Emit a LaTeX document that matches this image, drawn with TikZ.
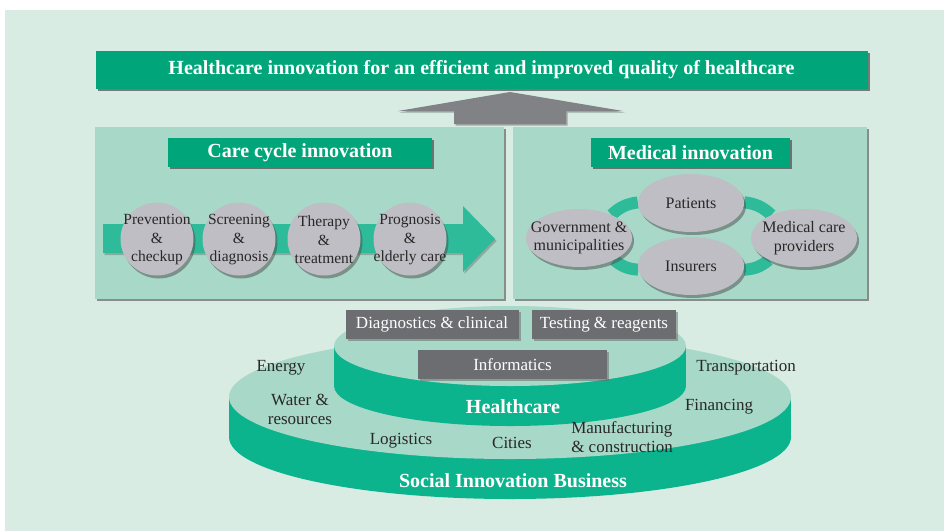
\documentclass[tikz,border=0pt]{standalone}
\usepackage{fontspec}
\setmainfont{Liberation Serif}
\usepackage{tikz}
\usetikzlibrary{shapes,shadows}
\definecolor{bgmint}{RGB}{216,236,228}
\definecolor{panelgreen}{RGB}{168,216,200}
\definecolor{titlegreen}{RGB}{0,166,122}
\definecolor{bandteal}{RGB}{45,187,154}
\definecolor{discteal}{RGB}{12,180,142}
\definecolor{circlegray}{RGB}{190,190,196}
\definecolor{boxgray}{RGB}{108,109,113}
\definecolor{arrowgray}{RGB}{128,130,134}
\definecolor{textgray}{RGB}{40,40,40}
\pgfdeclarelayer{bg}
\pgfdeclarelayer{mid}
\pgfsetlayers{bg,mid,main}
\tikzstyle{banner}=[fill=titlegreen,text=white,inner sep=0pt,font=\fontsize{20}{22}\bfseries\selectfont,drop shadow={shadow xshift=2pt,shadow yshift=-2pt,fill=black!70,opacity=.7}]
\tikzstyle{panel}=[fill=panelgreen,drop shadow={shadow xshift=2pt,shadow yshift=-2pt,fill=black!60,opacity=.7}]
\tikzstyle{stage}=[circle,fill=circlegray,minimum size=73pt,inner sep=0pt,drop shadow={shadow xshift=2pt,shadow yshift=-3pt,fill=black!70,opacity=.5}]
\tikzstyle{stage text}=[inner sep=0pt,text=textgray,font=\fontsize{15.5}{18.5}\selectfont]
\tikzstyle{actor}=[ellipse,fill=circlegray,minimum width=106pt,minimum height=58pt,inner sep=0pt,drop shadow={shadow xshift=2pt,shadow yshift=-3pt,fill=black!70,opacity=.5}]
\tikzstyle{actor text}=[inner sep=0pt,text=textgray,font=\fontsize{16}{18.5}\selectfont]
\tikzstyle{band}=[draw=bandteal,line width=12pt]
\tikzstyle{field}=[fill=boxgray,text=white,inner sep=0pt,minimum height=29pt,font=\fontsize{17}{20}\selectfont,drop shadow={shadow xshift=2pt,shadow yshift=-2pt,fill=black!60,opacity=.5}]
\tikzstyle{sector}=[text=textgray,font=\fontsize{17}{19}\selectfont]
\tikzstyle{tier}=[text=white,font=\fontsize{20}{22}\bfseries\selectfont]

\begin{document}
\begin{tikzpicture}[x=1pt,y=-1pt,align=center]
    \useasboundingbox (0,0) rectangle (944,531);
    \begin{pgfonlayer}{bg}
    \fill[bgmint] (5,10) rectangle (944,531);
    % social innovation disc
    \fill[discteal] (510,437) ellipse (281 and 62);
    \fill[discteal] (229,397) rectangle (791,437);
    \fill[panelgreen] (510,397) ellipse (281 and 62);
    % healthcare disc
    \fill[discteal] (510,386) ellipse (176 and 40);
    \fill[discteal] (334,346) rectangle (686,386);
    \fill[panelgreen] (510,346) ellipse (176 and 40);
    % upward arrow
    \fill[arrowgray,drop shadow={shadow xshift=1.5pt,shadow yshift=-1.5pt,fill=black!60,opacity=.5}] (454,124) -- (454,111) -- (398,111) -- (510,92) -- (623,111) -- (566,111) -- (566,124) -- cycle;
    \path[panel] (95,127) rectangle (504,299);
    \path[panel] (513,127) rectangle (867,299);
    \end{pgfonlayer}

    \node[banner,minimum width=772pt,minimum height=38pt] (goal) at (481.5,69.5) {Healthcare innovation for an efficient and improved quality of healthcare};
    \node[banner,minimum width=264pt,minimum height=29pt] (care) at (300,152.5) {Care cycle innovation};
    \node[banner,minimum width=199pt,minimum height=29pt] (medical) at (690.5,152.5) {Medical innovation};

    % care cycle
    \fill[bandteal,drop shadow={shadow xshift=1.5pt,shadow yshift=-2pt,fill=black!60,opacity=.4}] (103,224) -- (463,224) -- (463,206) -- (495,239) -- (463,272) -- (463,253) -- (103,253) -- cycle;
    \foreach \pos/\name/\txt in {(157,239)/prev/Prevention\\\&\\checkup, (239,239)/screen/Screening\\\&\\diagnosis,
        (324,239)/therapy/Therapy\\\&\\treatment, (410,239)/prog/Prognosis\\\&\\elderly care}
    {
        \node[stage] (\name) at \pos {};
        \node[stage text] (\name-t) at ([yshift=-1pt]\name) {\txt};
    }

    % medical innovation
    \foreach \pos/\name/\txt in {(579,238)/gov/Government \&\\municipalities, (691,203)/pat/Patients,
        (691,266)/ins/Insurers, (804,238)/prov/Medical care\\providers}
    {
        \node[actor] (\name) at \pos {};
        \node[actor text] (\name-t) at (\name) {\txt};
    }
    \begin{pgfonlayer}{mid}
    \foreach \source/\dest/\dir in {gov/pat/left, pat/prov/left, gov/ins/right, ins/prov/right}
        \path[band] (\source) to[bend \dir=18] (\dest);
    \end{pgfonlayer}

    % business fields
    \node[field,minimum width=173pt] (diag) at (432,324.5) {Diagnostics \& clinical};
    \node[field,minimum width=144pt] (test) at (604,324.5) {Testing \& reagents};
    \node[field,minimum width=189pt] (info) at (512.5,364.5) {Informatics};
    \node[tier] (health) at (513,407) {Healthcare};
    \node[tier] (social) at (513,481) {Social Innovation Business};
    \foreach \pos/\name/\txt in {(281,368)/energy/Energy, (300,409)/water/Water \&\\resources, (401,441)/logist/Logistics,
        (512,443)/cities/Cities, (746,368)/transp/Transportation, (719,407)/fin/Financing}
        \node[sector] (\name) at \pos {\txt};
    \node[sector,align=left] (manuf) at (622,437.5) {Manufacturing\\\& construction};
\end{tikzpicture}
\end{document}
